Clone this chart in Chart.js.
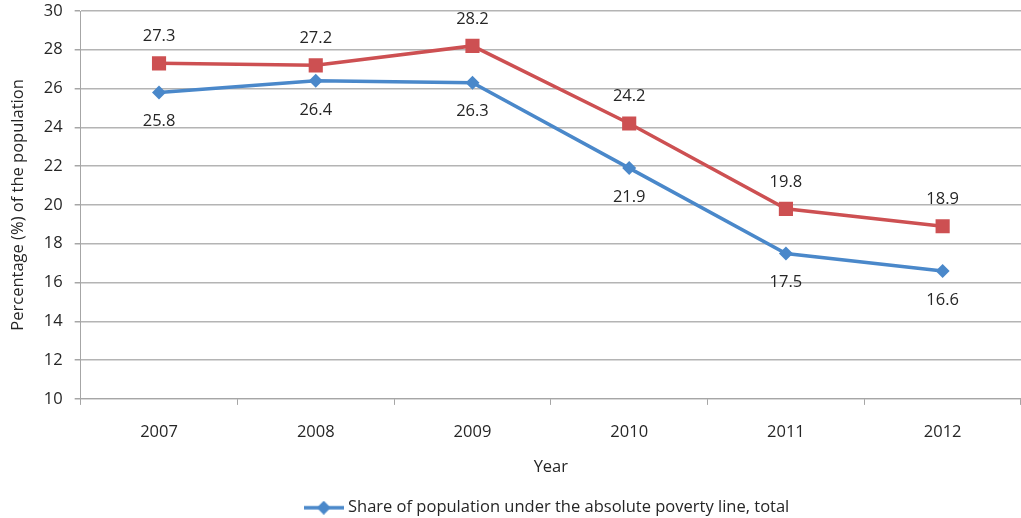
<!DOCTYPE html>
<html>
<head>
<meta charset="utf-8">
<script src="https://cdn.jsdelivr.net/npm/chart.js@4/dist/chart.umd.min.js"></script>
<style>
  html, body { margin: 0; padding: 0; background: #ffffff; overflow: hidden; }
  canvas { display: block; }
</style>
</head>
<body>
<canvas id="c" width="1021" height="518"></canvas>
<script>
// Years on the category axis
const years = ['2007', '2008', '2009', '2010', '2011', '2012'];
// Share of population under the absolute poverty line, total (%)
const povertyTotal = [25.8, 26.4, 26.3, 21.9, 17.5, 16.6];
// Second series, drawn in red (%)
const povertySecond = [27.3, 27.2, 28.2, 24.2, 19.8, 18.9];
// Value axis range
const yMin = 10, yMax = 30, yStep = 2;

const FONT = '"Open Sans", "Liberation Sans", Arial, sans-serif';
const FSIZE = 16.5;
const TEXT = '#262626';
const BLUE = '#4a88ca';
const RED = '#cd5052';

// Legend swatch: short line with a diamond in the middle
function legendSwatch() {
  const cv = document.createElement('canvas');
  cv.width = 40; cv.height = 14;
  const g = cv.getContext('2d');
  g.strokeStyle = BLUE; g.lineWidth = 3.5;
  g.beginPath(); g.moveTo(0, 7); g.lineTo(40, 7); g.stroke();
  g.fillStyle = BLUE;
  g.beginPath(); g.moveTo(20, 0); g.lineTo(27, 7); g.lineTo(20, 14); g.lineTo(13, 7); g.closePath(); g.fill();
  return cv;
}

// Value labels: red series above its points, blue series below
const valueLabels = {
  id: 'valueLabels',
  afterDatasetsDraw(chart) {
    const ctx = chart.ctx;
    ctx.save();
    ctx.font = FSIZE + 'px ' + FONT;
    ctx.fillStyle = TEXT;
    ctx.textAlign = 'center';
    ctx.textBaseline = 'middle';
    chart.data.datasets.forEach((ds, i) => {
      const meta = chart.getDatasetMeta(i);
      const dy = ds.labelPos === 'above' ? -27 : 29;
      meta.data.forEach((pt, j) => {
        ctx.fillText(ds.data[j].toFixed(1), pt.x, pt.y + dy);
      });
    });
    ctx.restore();
  }
};

// The legend sits a little right of centre, under the plot
const legendShift = {
  id: 'legendShift',
  afterLayout(chart) {
    const d = 34;
    chart.legend.left += d;
    chart.legend.right += d;
  }
};

new Chart(document.getElementById('c'), {
  type: 'line',
  data: {
    labels: years,
    datasets: [
      {
        label: 'Share of population under the absolute poverty line, total',
        data: povertyTotal,
        borderColor: BLUE,
        backgroundColor: BLUE,
        borderWidth: 3.5,
        pointStyle: 'rectRot',
        pointRadius: 7,
        pointHoverRadius: 7,
        pointBorderWidth: 0,
        tension: 0,
        labelPos: 'below'
      },
      {
        label: 'Series 2',
        data: povertySecond,
        borderColor: RED,
        backgroundColor: RED,
        borderWidth: 3.5,
        pointStyle: 'rect',
        pointRadius: 10,
        pointHoverRadius: 10,
        pointBorderWidth: 0,
        tension: 0,
        labelPos: 'above'
      }
    ]
  },
  options: {
    responsive: false,
    animation: false,
    layout: { autoPadding: false, padding: { top: 11, right: 0, left: 8, bottom: -8 } },
    plugins: {
      tooltip: { enabled: false },
      legend: {
        position: 'bottom',
        labels: {
          usePointStyle: true,
          pointStyleWidth: 32,
          generateLabels(chart) {
            const ds = chart.data.datasets[0];
            return [{
              text: ds.label,
              datasetIndex: 0,
              pointStyle: legendSwatch(),
              fillStyle: BLUE,
              strokeStyle: BLUE,
              lineWidth: 0,
              fontColor: TEXT
            }];
          },
          color: TEXT,
          font: { family: FONT, size: FSIZE },
          padding: 10
        }
      }
    },
    scales: {
      x: {
        offset: true,
        afterFit(scale) { scale.paddingLeft = 0; scale.paddingRight = 0; },
        grid: {
          offset: true,
          drawOnChartArea: false,
          drawTicks: true,
          tickLength: 6,
          color: '#a6a6a6'
        },
        border: { color: '#a6a6a6', width: 1 },
        ticks: { color: TEXT, font: { family: FONT, size: FSIZE }, padding: 17 },
        title: {
          display: true,
          text: 'Year',
          color: TEXT,
          font: { family: FONT, size: FSIZE },
          padding: { top: -1, bottom: 12 }
        }
      },
      y: {
        min: yMin,
        max: yMax,
        afterFit(scale) { scale.paddingTop = 0; scale.paddingBottom = 0; },
        ticks: {
          stepSize: yStep,
          color: TEXT,
          font: { family: FONT, size: FSIZE },
          padding: 12
        },
        grid: {
          color: '#b4b4b4',
          lineWidth: 1.5,
          tickLength: 6,
          tickColor: '#a6a6a6'
        },
        border: { color: '#a6a6a6', width: 1 },
        title: {
          display: true,
          text: 'Percentage (%) of the population',
          color: TEXT,
          font: { family: FONT, size: FSIZE },
          padding: { top: 0, bottom: 4 }
        }
      }
    }
  },
  plugins: [valueLabels, legendShift]
});
</script>
</body>
</html>
